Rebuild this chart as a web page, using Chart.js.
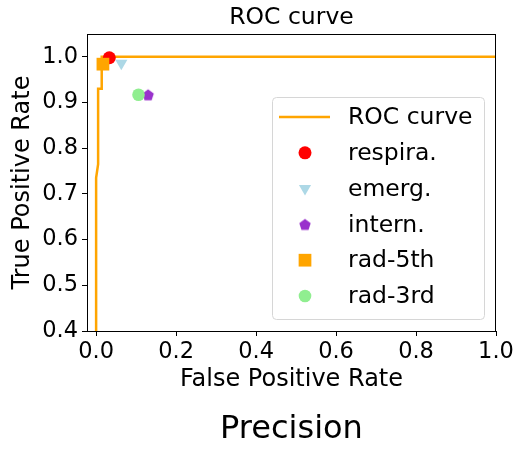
<!DOCTYPE html>
<html>
<head>
<meta charset="utf-8">
<script src="https://cdn.jsdelivr.net/npm/chart.js@4.4.0/dist/chart.umd.min.js"></script>
<style>
  html, body { margin: 0; padding: 0; background: #fff; }
  #wrap { width: 518px; height: 449px; }
</style>
</head>
<body>
<div id="wrap"><canvas id="roc" width="518" height="449"></canvas></div>
<script>
// ROC curve samples (false positive rate, true positive rate)
const rocFpr = [0, 0, 0.005, 0.005, 0.014, 0.014, 1.0];
const rocTpr = [0, 0.735, 0.765, 0.93, 0.93, 1.0, 1.0];

// single operating points
const pointNames = ['respira.', 'emerg.', 'intern.', 'rad-5th', 'rad-3rd'];
const pointFpr = [0.033, 0.063, 0.130, 0.017, 0.106];
const pointTpr = [0.998, 0.986, 0.917, 0.984, 0.917];

// tick labels
const xTicks = [0, 0.2, 0.4, 0.6, 0.8, 1.0];
const yTicks = [0.4, 0.5, 0.6, 0.7, 0.8, 0.9, 1.0];

const FONT = 'DejaVu Sans';
const ORANGE = '#ffa500';

/* pentagon marker (no built-in style for it) */
function pentagon(r, color) {
  const c = document.createElement('canvas');
  const s = Math.ceil(r * 2 + 2);
  c.width = c.height = s;
  const g = c.getContext('2d');
  g.fillStyle = color;
  g.beginPath();
  for (let i = 0; i < 5; i += 1) {
    const a = -Math.PI / 2 + i * 2 * Math.PI / 5;
    const px = s / 2 + r * Math.cos(a);
    const py = s / 2 + r * Math.sin(a) + r * 0.1;
    if (i) g.lineTo(px, py); else g.moveTo(px, py);
  }
  g.closePath();
  g.fill();
  return c;
}

const pointColors = ['#ff0000', '#add8e6', '#9932cc', ORANGE, '#90ee90'];
const pointStyles = ['circle', 'triangle', pentagon(6, '#9932cc'), 'rect', 'circle'];
const pointSizes = [6.5, 7, 6, 9, 6.3];
const pointRot = [0, 180, 0, 0, 0];

const datasets = [{
  label: 'ROC curve',
  data: rocFpr.map((x, i) => ({ x, y: rocTpr[i] })),
  showLine: true,
  borderColor: ORANGE,
  borderWidth: 2.5,
  pointRadius: 0,
  tension: 0,
  order: 10,
}].concat(pointNames.map((name, i) => ({
  label: name,
  data: [{ x: pointFpr[i], y: pointTpr[i] }],
  backgroundColor: pointColors[i],
  borderWidth: 0,
  pointStyle: pointStyles[i],
  pointRadius: pointSizes[i],
  pointRotation: pointRot[i],
  order: 5 - i,
  clip: false,
})));

/* black frame around the plot area */
const frame = {
  id: 'frame',
  afterDatasetsDraw(chart) {
    const { ctx, chartArea: a } = chart;
    ctx.save();
    ctx.strokeStyle = '#000';
    ctx.lineWidth = 1;
    ctx.strokeRect(Math.round(a.left) + 0.5, Math.round(a.top) + 0.5,
      Math.round(a.right - a.left) - 1, Math.round(a.bottom - a.top));
    ctx.restore();
  }
};

/* matplotlib-like legend box in the lower right of the axes */
const legendBox = {
  id: 'legendBox',
  afterDraw(chart) {
    const { ctx, chartArea: a } = chart;
    const w = 212, h = 222;
    const right = a.right - 12, bottom = a.bottom - 12;
    const left = right - w, top = bottom - h;
    ctx.save();
    ctx.fillStyle = 'rgba(255,255,255,0.85)';
    ctx.strokeStyle = '#d6d6d6';
    ctx.lineWidth = 1;
    ctx.beginPath();
    ctx.roundRect(left + 0.5, top + 0.5, w, h, 4);
    ctx.fill();
    ctx.stroke();
    ctx.font = `23.5px "${FONT}"`;
    ctx.textBaseline = 'middle';
    ctx.textAlign = 'left';
    chart.data.datasets.forEach((ds, i) => {
      const y = top + 20 + i * 35.8;
      const mx = left + 33;
      if (ds.showLine) {
        ctx.strokeStyle = ds.borderColor;
        ctx.lineWidth = ds.borderWidth;
        ctx.beginPath();
        ctx.moveTo(left + 7, y);
        ctx.lineTo(left + 58, y);
        ctx.stroke();
      } else {
        ctx.fillStyle = ds.backgroundColor;
        Chart.helpers.drawPoint(ctx, {
          pointStyle: ds.pointStyle, radius: ds.pointRadius,
          rotation: ds.pointRotation, borderWidth: 0
        }, mx, y);
      }
      ctx.fillStyle = '#000';
      ctx.fillText(ds.label, left + 76, y + 1);
    });
    ctx.restore();
  }
};

new Chart(document.getElementById('roc'), {
  type: 'scatter',
  data: { datasets },
  options: {
    responsive: false,
    animation: false,
    layout: { padding: { left: 0, right: 22, top: 0, bottom: 0 } },
    plugins: {
      legend: { display: false },
      tooltip: { enabled: false },
      title: {
        display: true, text: 'ROC curve', fullSize: false, color: '#000',
        font: { family: FONT, size: 23.5, weight: 'normal' },
        padding: { top: 4, bottom: 1.8 }
      },
      subtitle: {
        display: true, text: 'Precision', position: 'bottom', fullSize: false, color: '#000',
        font: { family: FONT, size: 32, weight: 'normal' },
        padding: { top: 16.2, bottom: 0 }
      }
    },
    scales: {
      x: {
        type: 'linear', min: -0.0228, max: 1.0,
        afterBuildTicks: (s) => { s.ticks = xTicks.map(v => ({ value: v })); },
        afterFit: (s) => { s.height = 63.4; },
        ticks: {
          color: '#000', padding: 3, font: { family: FONT, size: 22.5 },
          callback: (v) => Number(v).toFixed(1)
        },
        grid: { drawOnChartArea: false, drawTicks: true, tickLength: 5, color: '#000' },
        border: { display: false },
        title: {
          display: true, text: 'False Positive Rate', color: '#000',
          font: { family: FONT, size: 24 }, padding: { top: 0, bottom: 0 }
        }
      },
      y: {
        type: 'linear', min: 0.4, max: 1.05,
        afterBuildTicks: (s) => { s.ticks = yTicks.map(v => ({ value: v })); },
        afterFit: (s) => { s.width = 87; },
        ticks: {
          color: '#000', padding: 4, font: { family: FONT, size: 22.5 },
          callback: (v) => Number(v).toFixed(1)
        },
        grid: { drawOnChartArea: false, drawTicks: true, tickLength: 5, color: '#000' },
        border: { display: false },
        title: {
          display: true, text: 'True Positive Rate', color: '#000',
          font: { family: FONT, size: 24 }, padding: { top: 8.5, bottom: 0 }
        }
      }
    }
  },
  plugins: [frame, legendBox]
});
</script>
</body>
</html>
